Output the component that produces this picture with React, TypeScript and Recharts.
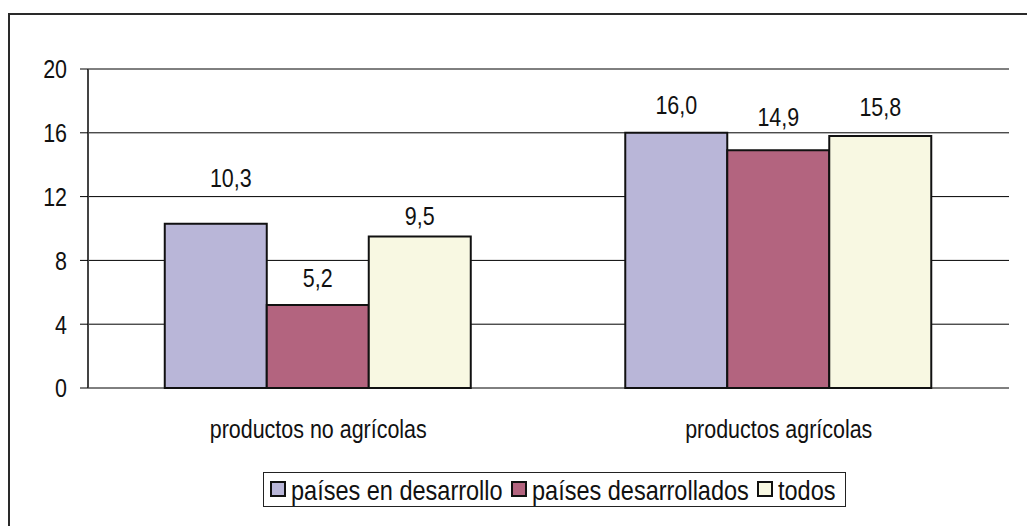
import React from 'react';
import { BarChart, Bar, XAxis, YAxis, CartesianGrid, Legend } from 'recharts';

const categories = ['productos no agrícolas', 'productos agrícolas'];
const enDesarrollo = [10.3, 16.0];
const desarrollados = [5.2, 14.9];
const todos = [9.5, 15.8];
const yTicks = [0, 4, 8, 12, 16, 20];
const seriesNames = ['países en desarrollo', 'países desarrollados', 'todos'];
const seriesKeys = ['a', 'b', 'c'];
const seriesColors = ['#B9B6D8', '#B3647F', '#F8F8E2'];

// label placement tweaks (gap above bar top, horizontal shift), per series per category
const labelGap = [[46, 28], [27, 34], [21, 29]];
const labelShift = [[15, 0], [0, 0], [0, 0]];

const data = categories.map((cat, i) => ({
  cat,
  a: enDesarrollo[i],
  b: desarrollados[i],
  c: todos[i],
  n: i + 0.5,
}));

const FONT = '"Liberation Sans", Arial, sans-serif';
const FS = 26;
const LEGEND_FS = 28.5;
const SX = 0.825; // horizontal condensing to mimic a narrow face

const fmt = (v: number) => v.toFixed(1).replace('.', ',');

const NarrowText = ({ x, y, anchor, size, children }: any) => (
  <g transform={`translate(${x},${y}) scale(${SX},1)`}>
    <text x={0} y={0} textAnchor={anchor} fontFamily={FONT} fontSize={size} fill="#111">
      {children}
    </text>
  </g>
);

const makeLabel = (s: number) => (props: any) => {
  const { x, y, width, value, index } = props;
  const cx = Number(x) + Number(width) / 2 + labelShift[s][index];
  const cy = Number(y) - labelGap[s][index];
  return (
    <NarrowText x={cx} y={cy + 9.3} anchor="middle" size={FS}>
      {fmt(Number(value))}
    </NarrowText>
  );
};

const YTick = (props: any) => {
  const { x, y, payload } = props;
  return (
    <NarrowText x={x} y={Number(y) + 9.3} anchor="end" size={FS}>
      {payload.value}
    </NarrowText>
  );
};

const XTick = (props: any) => {
  const { x, y, payload } = props;
  return (
    <NarrowText x={x} y={Number(y) + 18.7} anchor="middle" size={FS}>
      {payload.value}
    </NarrowText>
  );
};

// legend item start offsets inside the legend box
const legendItemX = [7, 248, 494];

const renderLegend = () => (
  <svg width={583} height={35} style={{ display: 'block' }}>
    <rect x={0.5} y={0.5} width={582} height={34} fill="#fff" stroke="#222" strokeWidth={1} />
    {seriesNames.map((name, i) => (
      <g key={name}>
        <rect
          x={legendItemX[i] + 1}
          y={10}
          width={14}
          height={14}
          fill={seriesColors[i]}
          stroke="#111"
          strokeWidth={2}
        />
        <NarrowText x={legendItemX[i] + 21} y={27.5} anchor="start" size={LEGEND_FS}>
          {name}
        </NarrowText>
      </g>
    ))}
  </svg>
);

export default function App() {
  return (
    <div style={{ position: 'fixed', left: 0, top: 0, width: 1027, height: 526, overflow: 'hidden', background: '#fff' }}>
      <div
        style={{
          position: 'absolute',
          left: 8,
          top: 13,
          width: 1100,
          height: 600,
          border: '2px solid #2a2a2a',
        }}
      />
      <div style={{ position: 'absolute', left: 0, top: 0 }}>
        <BarChart
          width={1027}
          height={526}
          data={data}
          margin={{ top: 69, right: 18, bottom: 78, left: 28 }}
          barCategoryGap="16.67%"
          barGap={0}
        >
          <CartesianGrid vertical={false} stroke="#000" strokeWidth={1} />
          <XAxis
            xAxisId="n"
            type="number"
            dataKey="n"
            domain={[0, 2]}
            ticks={[0, 1, 2]}
            height={0}
            tickSize={8}
            tickFormatter={() => ''}
            axisLine={{ stroke: '#000', strokeWidth: 2 }}
            tickLine={{ stroke: '#000', strokeWidth: 2 }}
          />
          <XAxis
            dataKey="cat"
            height={60}
            axisLine={false}
            tickLine={false}
            tickSize={0}
            tickMargin={31}
            tick={<XTick />}
          />
          <YAxis
            domain={[0, 20]}
            ticks={yTicks}
            width={60}
            tickSize={8}
            tickMargin={13}
            axisLine={{ stroke: '#444', strokeWidth: 2 }}
            tickLine={{ stroke: '#000', strokeWidth: 1 }}
            tick={<YTick />}
          />
          <YAxis
            yAxisId="r"
            orientation="right"
            width={0}
            domain={[0, 20]}
            tick={false}
            tickLine={false}
            axisLine={{ stroke: '#777', strokeWidth: 2 }}
          />
          <Legend
            layout="horizontal"
            verticalAlign="middle"
            align="center"
            content={renderLegend}
            wrapperStyle={{ position: 'absolute', left: 263, top: 472, width: 583, height: 35 }}
          />
          {seriesKeys.map((k, s) => (
            <Bar
              key={k}
              dataKey={k}
              name={seriesNames[s]}
              fill={seriesColors[s]}
              stroke="#111"
              strokeWidth={2}
              isAnimationActive={false}
              label={makeLabel(s)}
            />
          ))}
        </BarChart>
      </div>
    </div>
  );
}
